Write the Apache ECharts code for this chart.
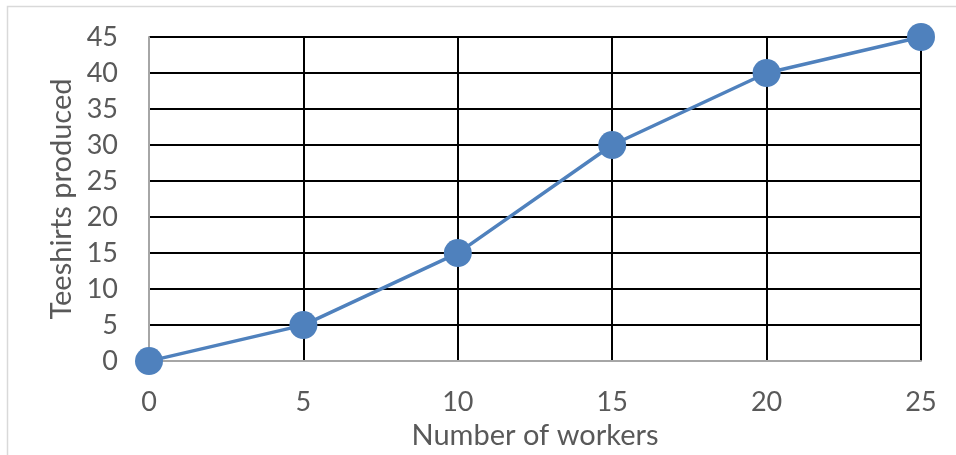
<!DOCTYPE html>
<html><head><meta charset="utf-8">
<script src="https://cdn.jsdelivr.net/npm/echarts@6/dist/echarts.min.js"></script>
<style>html,body{margin:0;padding:0;background:#fff}#c{width:956px;height:455px}</style>
</head><body><div id="c"></div>
<script>
const workers = [0, 5, 10, 15, 20, 25];
const teeshirts = [0, 5, 15, 30, 40, 45];
const xTitle = 'Number of workers';
const yTitle = 'Teeshirts produced';

const chart = echarts.init(document.getElementById('c'), null, {renderer: 'canvas'});
const font = 'Lato, "Liberation Sans", sans-serif';
chart.setOption({
  animation: false,
  backgroundColor: '#fff',
  graphic: [{
    type: 'rect', shape: {x: 7.5, y: 6.5, width: 1000, height: 500},
    style: {fill: 'none', stroke: '#d9d9d9', lineWidth: 1.5}, silent: true, z: -1
  }],
  grid: {left: 149, right: 35, top: 37, bottom: 92, containLabel: false},
  xAxis: {
    type: 'value', min: 0, max: 25, interval: 5,
    name: xTitle, nameLocation: 'middle', nameGap: 46,
    nameTextStyle: {color: '#595959', fontSize: 29, fontFamily: font},
    axisLine: {show: true, lineStyle: {color: '#a6a6a6', width: 2}},
    axisTick: {show: false},
    axisLabel: {color: '#595959', fontSize: 27, fontFamily: font, margin: 28},
    splitLine: {show: true, lineStyle: {color: '#000', width: 2}}
  },
  yAxis: {
    type: 'value', min: 0, max: 45, interval: 5,
    name: yTitle, nameLocation: 'middle', nameGap: 70,
    nameTextStyle: {color: '#595959', fontSize: 29, fontFamily: font},
    axisLine: {show: true, lineStyle: {color: '#a6a6a6', width: 2}},
    axisTick: {show: false},
    axisLabel: {color: '#595959', fontSize: 27, fontFamily: font, margin: 31},
    splitLine: {show: true, lineStyle: {color: '#000', width: 2}}
  },
  series: [{
    type: 'line',
    data: workers.map((w, i) => [w, teeshirts[i]]),
    symbol: 'circle', symbolSize: 28,
    lineStyle: {color: '#4f81bd', width: 3.5},
    itemStyle: {color: '#4f81bd'},
    clip: false
  }]
});
</script></body></html>
